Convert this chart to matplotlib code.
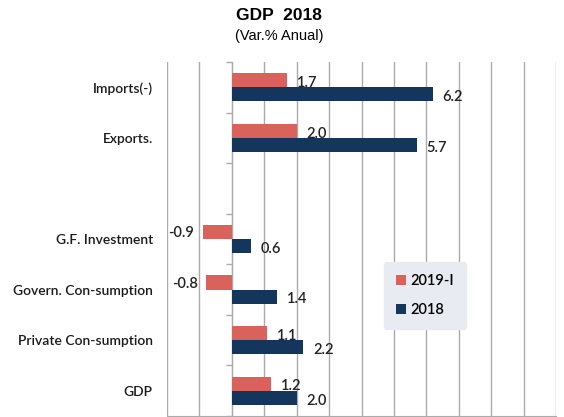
import matplotlib
matplotlib.use("Agg")
import matplotlib.pyplot as plt
import numpy as np

categories = ["GDP", "Private Con-sumption", "Govern. Con-sumption",
              "G.F. Investment", "", "Exports.", "Imports(-)"]
values_2019 = [1.2, 1.1, -0.8, -0.9, None, 2.0, 1.7]
values_2018 = [2.0, 2.2, 1.4, 0.6, None, 5.7, 6.2]
series_names = ["2019-I", "2018"]
x_ticks = list(range(-2, 11))

RED = "#d9625a"
NAVY = "#14355c"
GRID = "#ababab"

plt.rcParams["font.family"] = ["Lato", "DejaVu Sans"]

fig = plt.figure(figsize=(5.64, 4.17), dpi=100)
ax = fig.add_axes([167 / 564, 1 / 417, (556 - 167) / 564, (416 - 62) / 417])

y = np.arange(len(categories))
h = 0.28

for i, (a, b) in enumerate(zip(values_2019, values_2018)):
    if a is None:
        continue
    ax.barh(y[i] + h / 2, a, height=h, color=RED, zorder=3,
            label=series_names[0] if i == 0 else None)
    ax.barh(y[i] - h / 2, b, height=h, color=NAVY, zorder=3,
            label=series_names[1] if i == 0 else None)
    # value labels
    if a >= 0:
        ax.annotate(f"{a:.1f}", (a, y[i] + h / 2), xytext=(7, -2),
                    textcoords="offset points", ha="left", va="center",
                    fontsize=10.5, fontweight="semibold", color="#222222", zorder=4)
    else:
        ax.annotate(f"{a:.1f}", (a, y[i] + h / 2), xytext=(-6, -1),
                    textcoords="offset points", ha="right", va="center",
                    fontsize=10.5, fontweight="semibold", color="#222222", zorder=4)
    ax.annotate(f"{b:.1f}", (b, y[i] - h / 2), xytext=(7, -2),
                textcoords="offset points", ha="left", va="center",
                fontsize=10.5, fontweight="semibold", color="#222222", zorder=4)

ax.set_xlim(x_ticks[0], x_ticks[-1])
ax.set_ylim(-0.5, len(categories) - 0.5)
ax.set_xticks(x_ticks)
ax.tick_params(axis="x", length=0, labelbottom=False)
ax.grid(axis="x", color=GRID, linewidth=1.0, zorder=0)

# category axis sits on the zero line
ax.spines["left"].set_position(("data", 0))
ax.spines["left"].set_color(GRID)
ax.spines["left"].set_zorder(2)
ax.spines["top"].set_visible(False)
ax.spines["right"].set_visible(False)
ax.spines["bottom"].set_color(GRID)
ax.set_yticks(y)
ax.set_yticklabels(categories, fontsize=10, color="#1a1a1a", fontweight="semibold")
ax.set_yticks(np.arange(-0.5, len(categories), 1.0), minor=True)
ax.tick_params(axis="y", which="major", length=0, pad=79 * 72 / 100)
ax.tick_params(axis="y", which="minor", length=4, color=GRID, width=1)

leg = ax.legend(loc="upper left", bbox_to_anchor=((384 - 167) / 389, 1 - (262 - 62) / 354),
                frameon=True, fontsize=10.5, handlelength=0.65, handleheight=0.65,
                handletextpad=0.3, labelspacing=1.0, borderpad=0.85,
                borderaxespad=0, prop={"weight": "semibold", "size": 10.5})
leg.get_frame().set_facecolor("#e8ebf2")
leg.get_frame().set_edgecolor("#e8ebf2")
leg.get_frame().set_alpha(1)
leg.set_zorder(5)

fig.text(279 / 564, 1 - 16 / 417, "GDP  2018", ha="center", va="center",
         fontsize=12.5, fontweight="bold", family=["Liberation Sans", "DejaVu Sans"])
fig.text(279 / 564, 1 - 36 / 417, "(Var.% Anual)", ha="center", va="center",
         fontsize=10.5, family=["Liberation Sans", "DejaVu Sans"])

fig.savefig("out.png", dpi=100, facecolor="white")
